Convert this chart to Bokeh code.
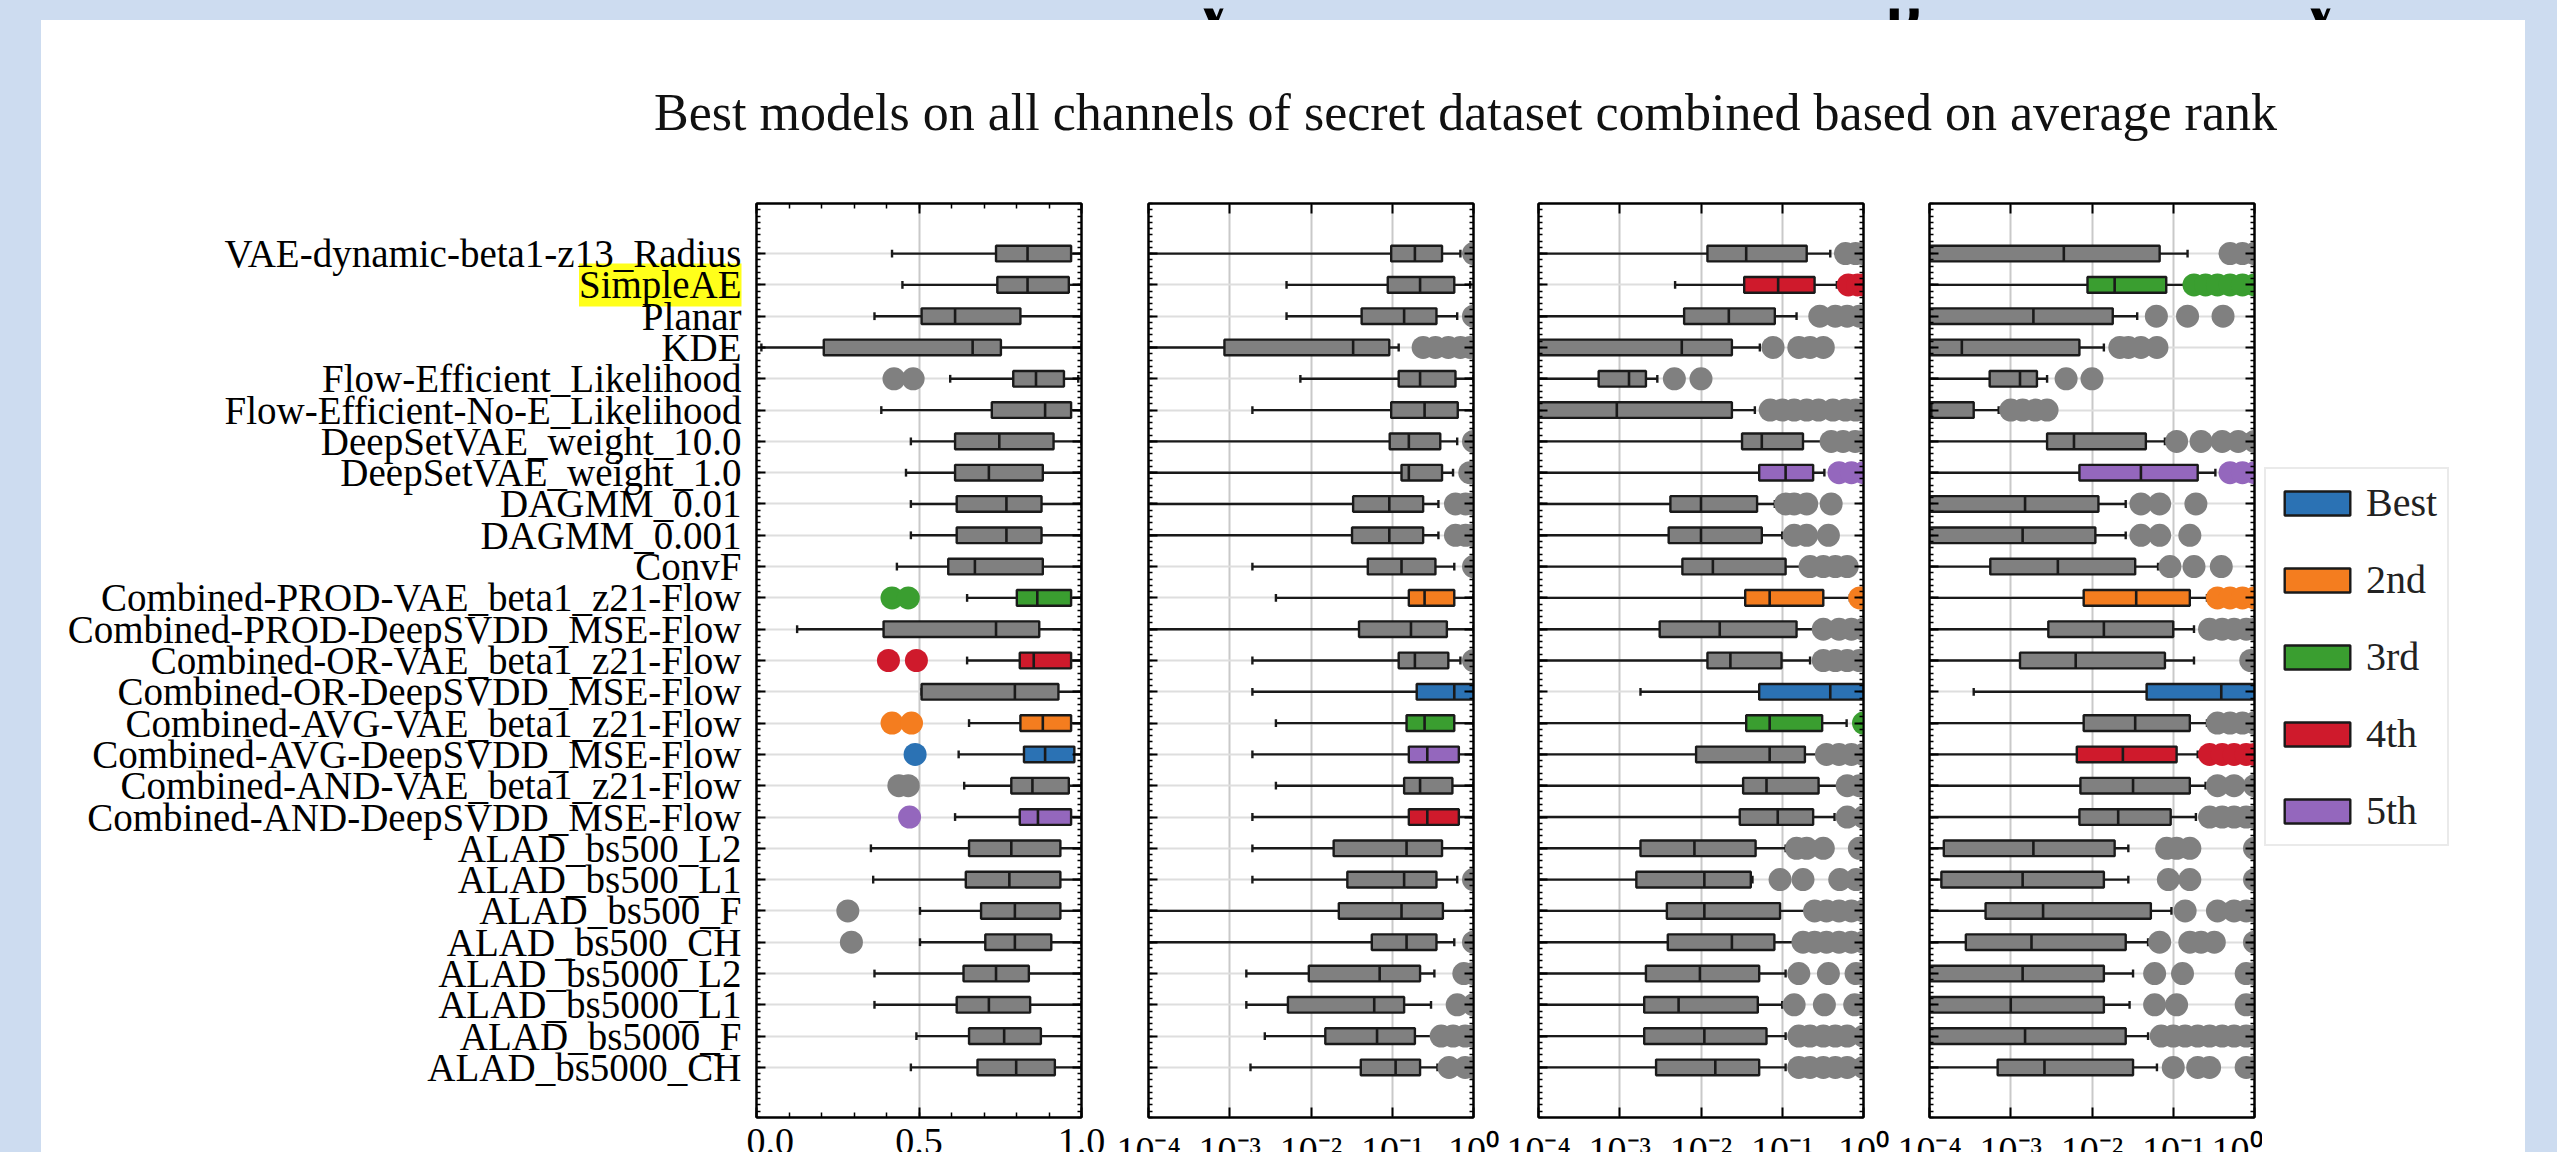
import numpy as np
from bokeh.plotting import figure
from bokeh.models import (ColumnDataSource, FixedTicker, LinearAxis, LogAxis,
                          Range1d, Label, Legend, LegendItem, Spacer)
from bokeh.layouts import row, column
from bokeh.transform import dodge
from bokeh.core.properties import value
from bokeh.embed import file_html
from bokeh.resources import INLINE

# ---------------------------------------------------------------- data
TITLE = "Best models on all channels of secret dataset combined based on average rank"

CATEGORIES = [
    "VAE-dynamic-beta1-z13_Radius", "SimpleAE", "Planar", "KDE",
    "Flow-Efficient_Likelihood", "Flow-Efficient-No-E_Likelihood",
    "DeepSetVAE_weight_10.0", "DeepSetVAE_weight_1.0", "DAGMM_0.01", "DAGMM_0.001",
    "ConvF", "Combined-PROD-VAE_beta1_z21-Flow", "Combined-PROD-DeepSVDD_MSE-Flow",
    "Combined-OR-VAE_beta1_z21-Flow", "Combined-OR-DeepSVDD_MSE-Flow",
    "Combined-AVG-VAE_beta1_z21-Flow", "Combined-AVG-DeepSVDD_MSE-Flow",
    "Combined-AND-VAE_beta1_z21-Flow", "Combined-AND-DeepSVDD_MSE-Flow",
    "ALAD_bs500_L2", "ALAD_bs500_L1", "ALAD_bs500_F", "ALAD_bs500_CH",
    "ALAD_bs5000_L2", "ALAD_bs5000_L1", "ALAD_bs5000_F", "ALAD_bs5000_CH",
]
HIGHLIGHT = "SimpleAE"
RANK_LABELS = ["Best", "2nd", "3rd", "4th", "5th"]

LIN_TICKS = [0.0, 0.5, 1.0]
LIN_TICK_LABELS = ["0.0", "0.5", "1.0"]
LOG_TICKS = [1e-4, 1e-3, 1e-2, 1e-1, 1.0]
LOG_TICK_LABELS = ["10\u207b\u2074", "10\u207b\u00b3", "10\u207b\u00b2", "10\u207b\u00b9", "10\u2070"]

# panel 1 (linear)
P1_LO = [0.417, 0.449, 0.363, 0.015, 0.596, 0.384, 0.475, 0.460, 0.475, 0.475,
         0.432, 0.648, 0.125, 0.648, 0.508, 0.654, 0.622, 0.639, 0.611, 0.352,
         0.359, 0.503, 0.503, 0.363, 0.363, 0.492, 0.475]
P1_Q1 = [0.737, 0.741, 0.508, 0.207, 0.790, 0.724, 0.611, 0.611, 0.616, 0.616,
         0.590, 0.801, 0.391, 0.810, 0.508, 0.812, 0.823, 0.784, 0.810, 0.654,
         0.644, 0.691, 0.704, 0.637, 0.616, 0.654, 0.680]
P1_MED = [0.834, 0.834, 0.611, 0.665, 0.860, 0.888, 0.747, 0.715, 0.769, 0.769,
          0.672, 0.864, 0.737, 0.853, 0.795, 0.881, 0.888, 0.849, 0.866, 0.784,
          0.778, 0.795, 0.795, 0.737, 0.715, 0.762, 0.799]
P1_Q3 = [0.968, 0.961, 0.812, 0.752, 0.946, 0.968, 0.914, 0.881, 0.877, 0.877,
         0.881, 0.968, 0.870, 0.968, 0.929, 0.968, 0.978, 0.961, 0.968, 0.935,
         0.935, 0.935, 0.907, 0.838, 0.842, 0.875, 0.918]
P1_HI = [1.0, 1.0, 1.0, 1.0, 0.99, 1.0, 1.0, 1.0, 1.0, 1.0,
         1.0, 1.0, 1.0, 1.0, 1.0, 1.0, 1.0, 1.0, 1.0, 1.0,
         1.0, 1.0, 1.0, 1.0, 1.0, 1.0, 1.0]
P1_OUT = [[], [], [], [], [0.423, 0.482], [], [], [], [], [],
          [], [0.417, 0.467], [], [0.406, 0.492], [], [0.417, 0.477], [0.488],
          [0.438, 0.467], [0.471], [], [], [0.281], [0.292], [], [], [], []]
P1_RANK_ROWS = [16, 15, 11, 13, 18]

# panel 2 (log)
P2_LO = [1e-5, 5.0e-3, 5.0e-3, 1e-5, 7.4e-3, 1.9e-3, 1e-5, 1e-5, 1e-5, 1e-5,
         1.9e-3, 3.7e-3, 1e-5, 1.9e-3, 1.9e-3, 3.7e-3, 1.9e-3, 3.7e-3, 1.9e-3, 1.9e-3,
         1.9e-3, 1e-5, 1e-5, 1.6e-3, 1.6e-3, 2.7e-3, 1.8e-3]
P2_Q1 = [9.7e-2, 8.8e-2, 4.2e-2, 8.6e-4, 1.2e-1, 9.7e-2, 9.3e-2, 1.3e-1, 3.3e-2, 3.2e-2,
         5.0e-2, 1.6e-1, 3.9e-2, 1.2e-1, 2.0e-1, 1.5e-1, 1.6e-1, 1.4e-1, 1.6e-1, 1.9e-2,
         2.8e-2, 2.2e-2, 5.6e-2, 9.4e-3, 5.2e-3, 1.5e-2, 4.1e-2]
P2_MED = [1.9e-1, 2.2e-1, 1.4e-1, 3.3e-2, 2.2e-1, 2.5e-1, 1.6e-1, 1.6e-1, 9.2e-2, 9.2e-2,
          1.3e-1, 2.5e-1, 1.7e-1, 1.9e-1, 5.8e-1, 2.5e-1, 2.7e-1, 2.2e-1, 2.7e-1, 1.5e-1,
          1.4e-1, 1.3e-1, 1.5e-1, 7.0e-2, 6.0e-2, 6.5e-2, 1.1e-1]
P2_Q3 = [4.1e-1, 5.8e-1, 3.5e-1, 9.2e-2, 6.0e-1, 6.4e-1, 3.9e-1, 4.1e-1, 2.4e-1, 2.4e-1,
         3.4e-1, 5.8e-1, 4.7e-1, 4.9e-1, 1.0, 5.8e-1, 6.6e-1, 5.5e-1, 6.6e-1, 4.1e-1,
         3.5e-1, 4.2e-1, 3.5e-1, 2.2e-1, 1.4e-1, 1.9e-1, 2.2e-1]
P2_HI = [6.9e-1, 9.1e-1, 6.3e-1, 1.2e-1, 1.0, 1.0, 6.3e-1, 5.6e-1, 3.7e-1, 3.7e-1,
         5.8e-1, 1.0, 1.0, 6.9e-1, 1.0, 1.0, 1.0, 1.0, 1.0, 1.0,
         6.3e-1, 1.0, 5.8e-1, 3.3e-1, 3.0e-1, 3.4e-1, 3.6e-1]
P2_OUT = [[1.0], [], [1.0], [0.24, 0.34, 0.49, 0.69, 0.91], [], [], [1.0], [0.9, 1.0],
          [0.6, 0.8, 1.0], [0.6, 0.8, 1.0], [1.0], [], [], [1.0], [], [], [], [], [],
          [], [1.0], [], [1.0], [0.76, 1.0], [0.63, 1.0], [0.4, 0.56, 0.79, 1.0],
          [0.5, 0.79, 1.0]]
P2_RANK_ROWS = [14, 11, 15, 18, 16]

# panel 3 (log)
P3_LO = [1e-5, 4.8e-3, 1e-5, 1e-5, 1e-5, 1e-5, 1e-5, 1e-5, 1e-5, 1e-5,
         1e-5, 1e-5, 1e-5, 1e-5, 1.8e-3, 1e-5, 1e-5, 1e-5, 1e-5, 1e-5,
         1e-5, 1e-5, 1e-5, 1e-5, 1e-5, 1e-5, 1e-5]
P3_Q1 = [1.2e-2, 3.4e-2, 6.2e-3, 1e-5, 5.5e-4, 1e-5, 3.2e-2, 5.2e-2, 4.2e-3, 4.0e-3,
         5.9e-3, 3.5e-2, 3.1e-3, 1.2e-2, 5.2e-2, 3.6e-2, 8.7e-3, 3.3e-2, 3.0e-2, 1.8e-3,
         1.6e-3, 3.8e-3, 3.9e-3, 2.1e-3, 2.0e-3, 2.0e-3, 2.8e-3]
P3_MED = [3.6e-2, 8.9e-2, 2.2e-2, 5.8e-3, 1.3e-3, 9.2e-4, 5.6e-2, 1.1e-1, 1.0e-2, 1.0e-2,
          1.4e-2, 7.0e-2, 1.7e-2, 2.3e-2, 3.9e-1, 7.0e-2, 7.0e-2, 6.4e-2, 8.8e-2, 8.3e-3,
          1.1e-2, 1.1e-2, 2.4e-2, 9.7e-3, 5.3e-3, 1.1e-2, 1.5e-2]
P3_Q3 = [2.0e-1, 2.5e-1, 8.1e-2, 2.4e-2, 2.1e-3, 2.4e-2, 1.8e-1, 2.4e-1, 4.9e-2, 5.6e-2,
         1.1e-1, 3.2e-1, 1.5e-1, 9.8e-2, 1.0, 3.1e-1, 1.9e-1, 2.8e-1, 2.4e-1, 4.7e-2,
         4.1e-2, 9.4e-2, 8.0e-2, 5.2e-2, 5.0e-2, 6.4e-2, 5.2e-2]
P3_HI = [3.9e-1, 4.7e-1, 1.5e-1, 5.3e-2, 2.9e-3, 4.6e-2, 3.2e-1, 3.3e-1, 8.1e-2, 1.0e-1,
         1.8e-1, 6.8e-1, 2.8e-1, 2.2e-1, 1.0, 6.2e-1, 3.2e-1, 4.9e-1, 4.4e-1, 1.1e-1,
         4.3e-2, 2.0e-1, 1.4e-1, 1.1e-1, 1.0e-1, 1.1e-1, 1.1e-1]
P3_OUT = [[0.6, 0.8, 1.0], [0.65, 0.85, 1.0], [0.29, 0.45, 0.63, 0.89],
          [0.077, 0.16, 0.22, 0.32], [4.7e-3, 1.0e-2],
          [0.071, 0.1, 0.14, 0.2, 0.28, 0.42, 0.6, 0.8, 1.0],
          [0.4, 0.56, 0.79, 1.0], [0.5, 0.71, 1.0], [0.11, 0.14, 0.2, 0.4],
          [0.14, 0.2, 0.37], [0.22, 0.32, 0.45, 0.63], [0.9, 1.0],
          [0.32, 0.5, 0.71, 1.0], [0.32, 0.45, 0.63, 0.89], [], [1.0],
          [0.35, 0.5, 0.71, 1.0], [0.63, 0.89, 1.0], [0.63, 1.0],
          [0.15, 0.2, 0.32, 0.89], [0.094, 0.18, 0.51, 0.81],
          [0.25, 0.35, 0.5, 0.71, 1.0], [0.18, 0.25, 0.35, 0.5, 0.71, 1.0],
          [0.16, 0.37, 0.81, 1.0], [0.14, 0.33, 0.78, 1.0],
          [0.16, 0.22, 0.32, 0.45, 0.63, 1.0], [0.16, 0.22, 0.32, 0.45, 0.63, 1.0]]
P3_RANK_ROWS = [14, 11, 15, 1, 7]

# panel 4 (log)
P4_LO = [1e-5, 1e-5, 1e-5, 1e-5, 1e-5, 1e-5, 1e-5, 1e-5, 1e-5, 1e-5,
         1e-5, 1e-5, 1e-5, 1e-5, 3.5e-4, 1e-5, 1e-5, 1e-5, 1e-5, 1e-5,
         1e-5, 1e-5, 1e-5, 1e-5, 1e-5, 1e-5, 1e-5]
P4_Q1 = [1e-5, 8.8e-3, 1e-5, 1e-5, 5.5e-4, 1e-5, 2.8e-3, 7.0e-3, 1e-5, 1e-5,
         5.6e-4, 7.9e-3, 2.9e-3, 1.3e-3, 4.7e-2, 7.9e-3, 6.5e-3, 7.2e-3, 7.0e-3, 1.5e-4,
         1.4e-4, 4.9e-4, 2.8e-4, 1e-5, 1e-5, 1e-5, 6.9e-4]
P4_MED = [4.5e-3, 1.9e-2, 1.9e-3, 2.5e-4, 1.3e-3, 1.05e-4, 6.0e-3, 4.0e-2, 1.5e-3, 1.4e-3,
          3.8e-3, 3.5e-2, 1.4e-2, 6.3e-3, 3.9e-1, 3.4e-2, 2.4e-2, 3.2e-2, 2.1e-2, 1.9e-3,
          1.4e-3, 2.5e-3, 1.8e-3, 1.4e-3, 1.0e-3, 1.5e-3, 2.6e-3]
P4_Q3 = [6.8e-2, 8.2e-2, 1.8e-2, 7.0e-3, 2.1e-3, 3.5e-4, 4.6e-2, 2.0e-1, 1.2e-2, 1.1e-2,
         3.4e-2, 1.6e-1, 1.0e-1, 7.9e-2, 1.0, 1.6e-1, 1.1e-1, 1.6e-1, 9.3e-2, 1.9e-2,
         1.4e-2, 5.3e-2, 2.6e-2, 1.4e-2, 1.4e-2, 2.6e-2, 3.2e-2]
P4_HI = [1.5e-1, 1.6e-1, 3.6e-2, 1.4e-2, 2.8e-3, 7.1e-4, 7.9e-2, 3.3e-1, 2.6e-2, 2.6e-2,
         6.5e-2, 2.6e-1, 1.8e-1, 1.8e-1, 1.0, 2.6e-1, 2.0e-1, 2.5e-1, 1.9e-1, 2.8e-2,
         2.8e-2, 9.5e-2, 4.9e-2, 3.2e-2, 2.9e-2, 4.9e-2, 6.3e-2]
P4_OUT = [[0.5, 0.71, 1.0], [0.18, 0.25, 0.35, 0.5, 0.71, 1.0], [0.062, 0.15, 0.41],
          [0.022, 0.028, 0.04, 0.063], [4.8e-3, 1.0e-2], [1.0e-3, 1.4e-3, 2.0e-3, 2.8e-3],
          [0.11, 0.22, 0.4, 0.63, 1.0], [0.5, 0.71, 1.0], [0.04, 0.068, 0.19],
          [0.04, 0.068, 0.16], [0.091, 0.18, 0.39], [0.35, 0.5, 0.71, 1.0],
          [0.28, 0.4, 0.56, 0.79, 1.0], [0.9], [], [0.35, 0.5, 0.71, 1.0],
          [0.28, 0.4, 0.56, 0.79, 1.0], [0.35, 0.56, 1.0], [0.28, 0.4, 0.56, 0.79, 1.0],
          [0.083, 0.11, 0.16, 1.0], [0.087, 0.16, 1.0], [0.14, 0.35, 0.56, 0.79, 1.0],
          [0.068, 0.16, 0.22, 0.32, 1.0], [0.059, 0.13, 0.79, 1.0], [0.059, 0.11, 0.79, 1.0],
          [0.071, 0.1, 0.14, 0.2, 0.28, 0.4, 0.56, 0.79, 1.0], [0.1, 0.2, 0.28, 0.79, 1.0]]
P4_RANK_ROWS = [14, 11, 1, 16, 7]

# ---------------------------------------------------------------- style
BG_BLUE = "#CDDCF0"
SERIF = "Liberation Serif"
BOX_GRAY = "#808080"
EDGE = "#1a1a1a"
RANK_COLORS = ["#2b72b4", "#f47d1f", "#3a9e30", "#cf1a2c", "#9467bd"]
PAD = 1.6
LABEL_PX = "39px"
TICK_PX = "38px"
TOP_B, FRAME_H, BOTTOM_B = 33, 914, 70
PANEL_H = TOP_B + FRAME_H + BOTTOM_B
N = len(CATEGORIES)
Y_RANGE = Range1d(N - 1 + PAD, -PAD)


def style_axis(ax, tick_in, minor_in):
    ax.major_tick_in = tick_in
    ax.major_tick_out = 0
    ax.minor_tick_in = minor_in
    ax.minor_tick_out = 0
    ax.axis_line_color = "black"
    ax.axis_line_width = 2
    ax.major_tick_line_color = "black"
    ax.major_tick_line_width = 2
    ax.minor_tick_line_color = "black"
    ax.minor_tick_line_width = 1.5


def hide_labels(ax, ticks):
    ax.major_label_overrides = {t: "" for t in ticks}
    ax.major_label_text_font_size = "1px"
    ax.major_label_standoff = 0


def build_panel(lo, q1, med, q3, hi, fliers, rank_rows, log_scale, border_left, border_right):
    ypos = list(range(N))
    colors = [BOX_GRAY for _ in ypos]
    for r, i in enumerate(rank_rows):
        colors[i] = RANK_COLORS[r]
    src = ColumnDataSource(dict(y=ypos, lo=lo, q1=q1, med=med, q3=q3, hi=hi, color=colors))

    if log_scale:
        ticks, labels, minor = LOG_TICKS, LOG_TICK_LABELS, []
    else:
        ticks, labels = LIN_TICKS, LIN_TICK_LABELS
        minor = [round(0.1 * k, 1) for k in range(11)]

    width = border_left + 325 + border_right
    p = figure(x_axis_type="log" if log_scale else "linear",
               x_range=Range1d(ticks[0], ticks[-1]), y_range=Y_RANGE,
               width=width, height=PANEL_H,
               min_border_left=border_left, min_border_right=border_right,
               min_border_top=TOP_B, min_border_bottom=BOTTOM_B,
               output_backend="svg", toolbar_location=None,
               background_fill_color="white", border_fill_color="white",
               outline_line_color="black", outline_line_width=2)

    yminor = [round(v, 2) for v in np.arange(-PAD, N - 1 + PAD + 0.01, 0.2)]

    xb = p.below[0]
    xt = LogAxis() if log_scale else LinearAxis()
    p.add_layout(xt, "above")
    yl = p.left[0]
    yr = LinearAxis()
    p.add_layout(yr, "right")

    for ax in (xb, xt):
        ax.ticker = FixedTicker(ticks=ticks, minor_ticks=minor)
        style_axis(ax, 10, 5)
    for ax in (yl, yr):
        ax.ticker = FixedTicker(ticks=ypos, minor_ticks=yminor)
        style_axis(ax, 9, 4)

    xb.major_label_overrides = dict(zip(ticks, labels))
    xb.major_label_text_font = SERIF
    xb.major_label_text_font_size = TICK_PX
    xb.major_label_text_color = "black"
    xb.major_label_standoff = 11
    hide_labels(xt, ticks)
    hide_labels(yl, ypos)
    hide_labels(yr, ypos)

    p.xgrid.ticker = FixedTicker(ticks=ticks)
    p.xgrid.grid_line_color = "#c9c9c9"
    p.xgrid.grid_line_width = 2
    p.ygrid.ticker = FixedTicker(ticks=ypos)
    p.ygrid.grid_line_color = "#dedede"
    p.ygrid.grid_line_width = 2

    p.segment(x0="lo", y0="y", x1="q1", y1="y", source=src, line_color=EDGE, line_width=2.4)
    p.segment(x0="q3", y0="y", x1="hi", y1="y", source=src, line_color=EDGE, line_width=2.4)
    p.segment(x0="lo", y0=dodge("y", -0.125), x1="lo", y1=dodge("y", 0.125),
              source=src, line_color=EDGE, line_width=2.4)
    p.segment(x0="hi", y0=dodge("y", -0.125), x1="hi", y1=dodge("y", 0.125),
              source=src, line_color=EDGE, line_width=2.4)
    p.hbar(y="y", left="q1", right="q3", height=0.5, source=src,
           fill_color="color", line_color=EDGE, line_width=2.4)
    p.segment(x0="med", y0=dodge("y", -0.25), x1="med", y1=dodge("y", 0.25),
              source=src, line_color=EDGE, line_width=2.6)

    fx, fy, fc = [], [], []
    for i, vals in enumerate(fliers):
        for v in vals:
            fx.append(v)
            fy.append(i)
            fc.append(colors[i])
    p.scatter(x="x", y="y", source=ColumnDataSource(dict(x=fx, y=fy, c=fc)),
              size=23, fill_color="c", line_color=None)
    return p


# ---------------------------------------------------------------- category labels
LABEL_W = 705
figL = figure(width=LABEL_W, height=PANEL_H, x_range=Range1d(0, LABEL_W), y_range=Y_RANGE,
              output_backend="svg", toolbar_location=None,
              x_axis_location=None, y_axis_location=None,
              min_border_left=0, min_border_right=0,
              min_border_top=TOP_B, min_border_bottom=BOTTOM_B,
              background_fill_color="white", border_fill_color="white",
              outline_line_color=None)
figL.grid.visible = False
figL.add_layout(Label(x=LABEL_W - 5, y=CATEGORIES.index(HIGHLIGHT), text=HIGHLIGHT,
                      text_align="right", text_baseline="middle", level="underlay",
                      text_font=SERIF, text_font_size=LABEL_PX, text_color="black",
                      background_fill_color="#ffff1a"))
lab_src = ColumnDataSource(dict(y=list(range(N)),
                                name=["" if c == HIGHLIGHT else c for c in CATEGORIES]))
figL.text(x=LABEL_W - 5, y="y", text="name", source=lab_src,
          text_align="right", text_baseline="middle",
          text_font=value(SERIF), text_font_size=LABEL_PX, text_color="black")

figA = build_panel(P1_LO, P1_Q1, P1_MED, P1_Q3, P1_HI, P1_OUT, P1_RANK_ROWS, False, 10, 33)
figB = build_panel(P2_LO, P2_Q1, P2_MED, P2_Q3, P2_HI, P2_OUT, P2_RANK_ROWS, True, 34, 32)
figC = build_panel(P3_LO, P3_Q1, P3_MED, P3_Q3, P3_HI, P3_OUT, P3_RANK_ROWS, True, 33, 33)
figD = build_panel(P4_LO, P4_Q1, P4_MED, P4_Q3, P4_HI, P4_OUT, P4_RANK_ROWS, True, 33, 8)

# ---------------------------------------------------------------- legend
LEG_COL_W = 2484 - (LABEL_W + 368 + 391 + 391 + 366)
figE = figure(width=LEG_COL_W, height=420, x_range=Range1d(0, 1), y_range=Range1d(0, 1),
              output_backend="svg", toolbar_location=None,
              x_axis_location=None, y_axis_location=None, min_border=0,
              background_fill_color="white", border_fill_color="white",
              outline_line_color=None)
figE.grid.visible = False
swatch = figE.hbar(y="r", left=0, right=1, height=0.5,
                   source=ColumnDataSource(dict(r=list(range(len(RANK_LABELS))), c=RANK_COLORS)),
                   fill_color="c", line_color=EDGE, line_width=2.4)
swatch.visible = False
legend = Legend(items=[LegendItem(label=lab, renderers=[swatch], index=k)
                       for k, lab in enumerate(RANK_LABELS)],
                location="top_left", orientation="vertical",
                label_text_font=SERIF, label_text_font_size="40px",
                label_text_color="#222222", label_text_baseline="middle",
                glyph_width=82, glyph_height=30, label_height=30, label_standoff=8,
                spacing=30, padding=10, margin=2,
                border_line_color="#d5d5d5", border_line_width=2,
                background_fill_color="white", background_fill_alpha=1.0,
                inactive_fill_alpha=0.0)
figE.add_layout(legend)

# ---------------------------------------------------------------- title area
title_fig = figure(width=2484, height=150, x_range=Range1d(0, 2484), y_range=Range1d(150, 0),
                   output_backend="svg", toolbar_location=None,
                   x_axis_location=None, y_axis_location=None, min_border=0,
                   background_fill_color="white", border_fill_color="white",
                   outline_line_color=None)
title_fig.grid.visible = False
title_fig.add_layout(Label(x=1424, y=92, text=TITLE, text_align="center",
                           text_baseline="alphabetic", text_font=SERIF,
                           text_font_size="52px", text_color="#111111"))

# top blue strip with the descenders of the slide heading above
strip = figure(width=2541, height=12, x_range=Range1d(0, 2541), y_range=Range1d(12, 0),
               output_backend="svg", toolbar_location=None,
               x_axis_location=None, y_axis_location=None, min_border=0,
               background_fill_color=BG_BLUE, border_fill_color=BG_BLUE,
               outline_line_color=None)
strip.grid.visible = False
for xx, ch in ((1205, "y"), (1895, "p"), (2312, "y")):
    strip.add_layout(Label(x=xx, y=-3, text=ch, text_align="center",
                           text_baseline="alphabetic", text_font=SERIF,
                           text_font_size="64px", text_font_style="bold",
                           text_color="black"))

# ---------------------------------------------------------------- layout
LEG_TOP = 295
legend_col = column(Spacer(width=LEG_COL_W, height=LEG_TOP), figE,
                    width=LEG_COL_W, height=LEG_TOP + 420, spacing=0)
panel_row = row(figL, figA, figB, figC, figD, legend_col,
                width=2484, height=PANEL_H, spacing=0)
white_col = column(title_fig, panel_row, width=2484, height=150 + PANEL_H, spacing=0,
                   styles={"background-color": "white"})
body_row = row(Spacer(width=33, height=150 + PANEL_H), white_col,
               width=2517, height=150 + PANEL_H, spacing=0)
page = column(strip, body_row, width=2541, height=12 + 150 + PANEL_H, spacing=0,
              styles={"background-color": BG_BLUE})

TEMPLATE = """
{% block postamble %}
<style>
html, body { box-sizing: border-box; margin: 0; padding: 0; height: 100%;
             overflow: hidden; background-color: #CDDCF0; }
body { padding: 8px; }
</style>
{% endblock %}
"""

try:
    html = file_html(page, INLINE, template=TEMPLATE)
except Exception:
    html = file_html(page, INLINE)
open("out.html", "w").write(html)
